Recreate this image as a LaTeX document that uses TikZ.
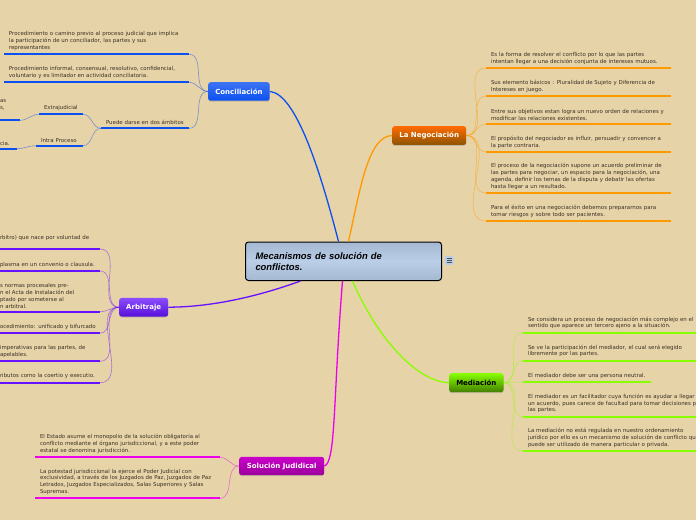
\documentclass[tikz,border=0pt]{standalone}
\usepackage{fontspec}
\setmainfont{DejaVu Sans}
\newfontfamily\titlefont{Liberation Sans}
\usepackage{xcolor}
\usetikzlibrary{shadows, positioning}

\definecolor{bgcol}{HTML}{E7D3A8}
\definecolor{inkcol}{HTML}{3A3024}
\definecolor{bluecol}{HTML}{0B50F0}
\definecolor{orangecol}{HTML}{FF9900}
\definecolor{purplecol}{HTML}{6611FF}
\definecolor{magentacol}{HTML}{EE00EE}
\definecolor{greencol}{HTML}{88FF00}
\definecolor{paleblue}{HTML}{BBCEE8}
\definecolor{dimblue}{HTML}{A5B8D2}

\tikzset{
  leaf/.style={anchor=south west, inner xsep=5pt, inner ysep=3.6pt, outer sep=0pt, align=left,
    text=inkcol, font=\fontsize{5.45}{6.85}\selectfont},
  cutleaf/.style={leaf, inner xsep=0pt},
  topic/.style={rounded corners=2.5pt, anchor=north west, inner sep=0pt, align=center,
    font=\fontsize{7}{8}\selectfont\bfseries, text=white,
    drop shadow={shadow xshift=0pt, shadow yshift=-1pt, opacity=.35}},
  under/.style={line width=2pt},
  twig/.style={line width=.6pt, opacity=.5},
  limb/.style={line width=1.3pt}
}

\begin{document}
\begin{tikzpicture}[x=1pt, y=-1pt]
      \fill[bgcol] (0,0) rectangle (696,520);
      \useasboundingbox (0,0) rectangle (696,520);

      % central topic
      \node[draw=black, line width=1pt, rounded corners=3pt, top color=dimblue, bottom color=dimblue, middle color=paleblue,
        anchor=north west, minimum width=196pt, minimum height=38.5pt, text width=176pt, inner xsep=10pt, align=left,
        font=\titlefont\fontsize{9.4}{11}\selectfont\bfseries\itshape] (mecanismos) at (245,241.5) {Mecanismos de soluci\'on de\\conflictos.};
      \node[fill=paleblue, rounded corners=1.5pt, minimum size=9pt, inner sep=0pt, right=2.5pt of mecanismos, yshift=1pt] (nota) {};
      \draw[black!70, line width=.6pt] ([xshift=-2.5pt,yshift=2pt]nota.center) -- ++(5,0);
      \draw[black!70, line width=.6pt] ([xshift=-2.5pt]nota.center) -- ++(5,0);
      \draw[black!70, line width=.6pt] ([xshift=-2.5pt,yshift=-2pt]nota.center) -- ++(5,0);

      % main topics
      \node[topic, top color=bluecol!80!white, bottom color=bluecol, minimum width=61.5pt, minimum height=18.5pt] (conciliacion) at (208,82) {Conciliaci\'on};
      \node[topic, top color=orangecol!70!red, bottom color=orangecol!55!black, minimum width=74pt, minimum height=18.7pt] (negociacion) at (392,126) {La Negociaci\'on};
      \node[topic, top color=purplecol!75!white, bottom color=purplecol!85!black, minimum width=49pt, minimum height=18.6pt] (arbitraje) at (119,297.7) {Arbitraje};
      \node[topic, top color=greencol, bottom color=greencol!50!black, text=black, minimum width=54.3pt, minimum height=19pt] (mediacion) at (449,373) {Mediaci\'on};
      \node[topic, top color=magentacol!85!black, bottom color=magentacol!65!black, minimum width=85pt, minimum height=18.3pt] (solucion) at (239,456.7) {Soluci\'on Judidical};

      \draw[limb, bluecol] (conciliacion.east) .. controls (296,94) and (320,170) .. ([xshift=-5pt]mecanismos.north);
      \draw[limb, orangecol] (negociacion.west) .. controls (368,136) and (360,190) .. ([xshift=5pt]mecanismos.north);
      \draw[limb, purplecol] (arbitraje.east) .. controls (215,307) and (262,295) .. ([xshift=-43pt]mecanismos.south);
      \draw[limb, magentacol] (solucion.east) .. controls (336,462) and (333,400) .. ([xshift=-1pt]mecanismos.south);
      \draw[limb, greencol] (mediacion.west) .. controls (418,382) and (378,340) .. ([xshift=9pt]mecanismos.south);

      % Conciliacion
      \node[leaf, text width=175pt] (c1) at (4,54.3) {Procedimiento o camino previo al proceso judicial que implica\\la participaci\'on de un conciliador, las partes y sus\\representantes};
      \node[leaf, text width=175pt] (c2) at (4,82.3) {Procedimiento informal, consensual, resolutivo, confidencial,\\voluntario y es limitador en actividad conciliatoria.};
      \node[leaf, text width=78pt] (c3) at (101,128.3) {Puede darse en dos \'ambitos};
      \node[leaf, text width=34pt] (c4) at (39,114.3) {Extrajudicial};
      \node[leaf, text width=37pt] (c5) at (36,145.7) {Intra Proceso};
      \node[cutleaf, text width=20pt, inner ysep=10pt] (c6) at (0,120.3) {as\\s,};
      \node[cutleaf, text width=17pt] (c7) at (0,148.7) {cia.};
      \foreach \n in {c1,c2,c3,c4,c5,c6,c7}
        \draw[under, bluecol] (\n.south west) -- (\n.south east);
      \foreach \n in {c1,c2,c3}
        \draw[twig, bluecol] (conciliacion.west) to[out=180, in=0] (\n.south east);
      \foreach \n in {c4,c5}
        \draw[twig, bluecol] (c3.south west) to[out=180, in=0] (\n.south east);
      \draw[twig, bluecol] (c4.south west) to[out=180, in=0] (c6.south east);
      \draw[twig, bluecol] (c5.south west) to[out=180, in=0] (c7.south east);

      % La Negociacion
      \node[leaf, text width=175pt] (n1) at (486,68) {Es la forma de resolver el conflicto por lo que las partes\\intentan llegar a una decisi\'on conjunta de intereses mutuos.};
      \node[leaf, text width=175pt] (n2) at (486,96) {Sus elemento b\'asicos : Pluralidad de Sujeto y Diferencia de\\Intereses en juego.};
      \node[leaf, text width=175pt] (n3) at (486,124) {Entre sus objetivos estan logra un nuevo orden de relaciones y\\modificar las relaciones existentes.};
      \node[leaf, text width=175pt] (n4) at (486,152) {El prop\'osito del negociador es influir, persuadir y convencer a\\la parte contraria.};
      \node[leaf, text width=175pt] (n5) at (486,193) {El proceso de la negociaci\'on supone un acuerdo preliminar de\\las partes para negociar, un espacio para la negociaci\'on, una\\agenda, definir los temas de la disputa y debatir las ofertas\\hasta llegar a un resultado.};
      \node[leaf, text width=175pt] (n6) at (486,221) {Para el \'exito en una negociaci\'on debemos prepararnos para\\tomar riesgos y sobre todo ser pacientes.};
      \foreach \n in {n1,n2,n3,n4,n5,n6} {
        \draw[under, orangecol] (\n.south west) -- (\n.south east);
        \draw[twig, orangecol] (negociacion.east) to[out=0, in=180] (\n.south west);
      }

      % Arbitraje
      \node[cutleaf, text width=100pt, inner ysep=3pt] (a1) at (0,249) {rbitro) que nace por voluntad de\\[0pt]\mbox{}};
      \node[cutleaf, text width=100pt] (a2) at (0,271) {plasma en un convenio o clausula.};
      \node[cutleaf, text width=100pt] (a3) at (0,311.7) {s normas procesales pre-\\n el Acta de Instalaci\'on del\\ptado por someterse al\\n arbitral.};
      \node[cutleaf, text width=100pt] (a4) at (0,333.3) {ocedimiento: unificado y bifurcado};
      \node[cutleaf, text width=100pt] (a5) at (0,361.3) {imperativas para las partes, de\\apelables.};
      \node[cutleaf, text width=100pt] (a6) at (0,382.7) {ributos como la coertio y executio.};
      \foreach \n in {a1,a2,a3,a4,a5,a6} {
        \draw[under, purplecol] (\n.south west) -- (\n.south east);
        \draw[twig, purplecol] (arbitraje.west) to[out=180, in=0] (\n.south east);
      }

      % Mediacion
      \node[leaf, text width=163pt] (m1) at (523,332.7) {\mbox{Se considera un proceso de negociaci\'on m\'as complejo en el}\\sentido que aparece un tercero ajeno a la situaci\'on.};
      \node[leaf, text width=163pt] (m2) at (523,360.7) {Se ve la participaci\'on del mediador, el cual ser\'a elegido\\libremente por las partes.};
      \node[leaf, text width=118pt] (m3) at (523,382) {El mediador debe ser una persona neutral.};
      \node[leaf, text width=163pt] (m4) at (523,416.7) {\mbox{El mediador es un facilitador cuya funci\'on es ayudar a llegar}\\\mbox{un acuerdo, pues carece de facultad para tomar decisiones p}\\las partes.};
      \node[leaf, text width=163pt] (m5) at (523,451) {La mediaci\'on no est\'a regulada en nuestro ordenamiento\\\mbox{jur\'idico por ello es un mecanismo de soluci\'on de conflicto qu}\\puede ser utilizado de manera particular o privada.};
      \foreach \n in {m1,m2,m3,m4,m5} {
        \draw[under, greencol] (\n.south west) -- (\n.south east);
        \draw[twig, greencol] (mediacion.east) to[out=0, in=180] (\n.south west);
      }

      % Solucion Judicial
      \node[leaf, text width=175pt] (s1) at (35,457.3) {El Estado asume el monopolio de la soluci\'on obligatoria al\\conflicto mediante el \'organo jurisdiccional, y a este poder\\estatal se denomina jurisdicci\'on.};
      \node[leaf, text width=175pt] (s2) at (35,498.3) {La potestad jurisdiccional la ejerce el Poder Judicial con\\exclusividad, a trav\'es de los Juzgados de Paz, Juzgados de Paz\\Letrados, Juzgados Especializados, Salas Superiores y Salas\\Supremas.};
      \foreach \n in {s1,s2} {
        \draw[under, magentacol] (\n.south west) -- (\n.south east);
        \draw[twig, magentacol] (solucion.west) to[out=180, in=0] (\n.south east);
      }
    \end{tikzpicture}
\end{document}
